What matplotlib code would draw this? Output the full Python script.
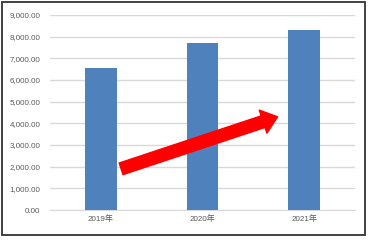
import matplotlib

matplotlib.use("Agg")
import matplotlib.pyplot as plt
from matplotlib.patches import Rectangle
from matplotlib.ticker import FuncFormatter

plt.rcParams["font.family"] = ["Liberation Sans", "Noto Sans CJK SC"]

years = ["2019年", "2020年", "2021年"]
values = [6570, 7720, 8300]
y_ticks = list(range(0, 9001, 1000))

fig = plt.figure(figsize=(3.70, 2.41), dpi=100)
ax = fig.add_axes([0.135, 0.1286, 0.824, 0.8092])

ax.bar(years, values, width=0.31, color="#4f81bd", zorder=3)

ax.set_ylim(0, 9000)
ax.set_xlim(-0.5, 2.5)
ax.set_yticks(y_ticks)
ax.yaxis.set_major_formatter(FuncFormatter(lambda v, p: f"{v:,.2f}"))
ax.grid(axis="y", color="#d9d9d9", lw=1, zorder=0)
for s in ["top", "right", "left"]:
    ax.spines[s].set_visible(False)
ax.spines["bottom"].set_color("#d9d9d9")
ax.tick_params(length=0, labelsize=5.8, colors="#595959", pad=4)
ax.tick_params(axis="y", pad=7)

# red trend arrow (decoration)
ax.annotate(
    "",
    xy=(1.74, 4300),
    xytext=(0.20, 1900),
    arrowprops=dict(
        arrowstyle="simple,head_length=1.1,head_width=1.75,tail_width=0.88",
        color="#ff0000",
        mutation_scale=10,
        shrinkA=0,
        shrinkB=0,
    ),
    zorder=5,
)

# outer frame
fig.patches.append(
    Rectangle(
        (0.005, 0.025),
        0.982,
        0.965,
        transform=fig.transFigure,
        fill=False,
        edgecolor="#333333",
        lw=1.3,
    )
)

fig.savefig("out.png", dpi=100)
